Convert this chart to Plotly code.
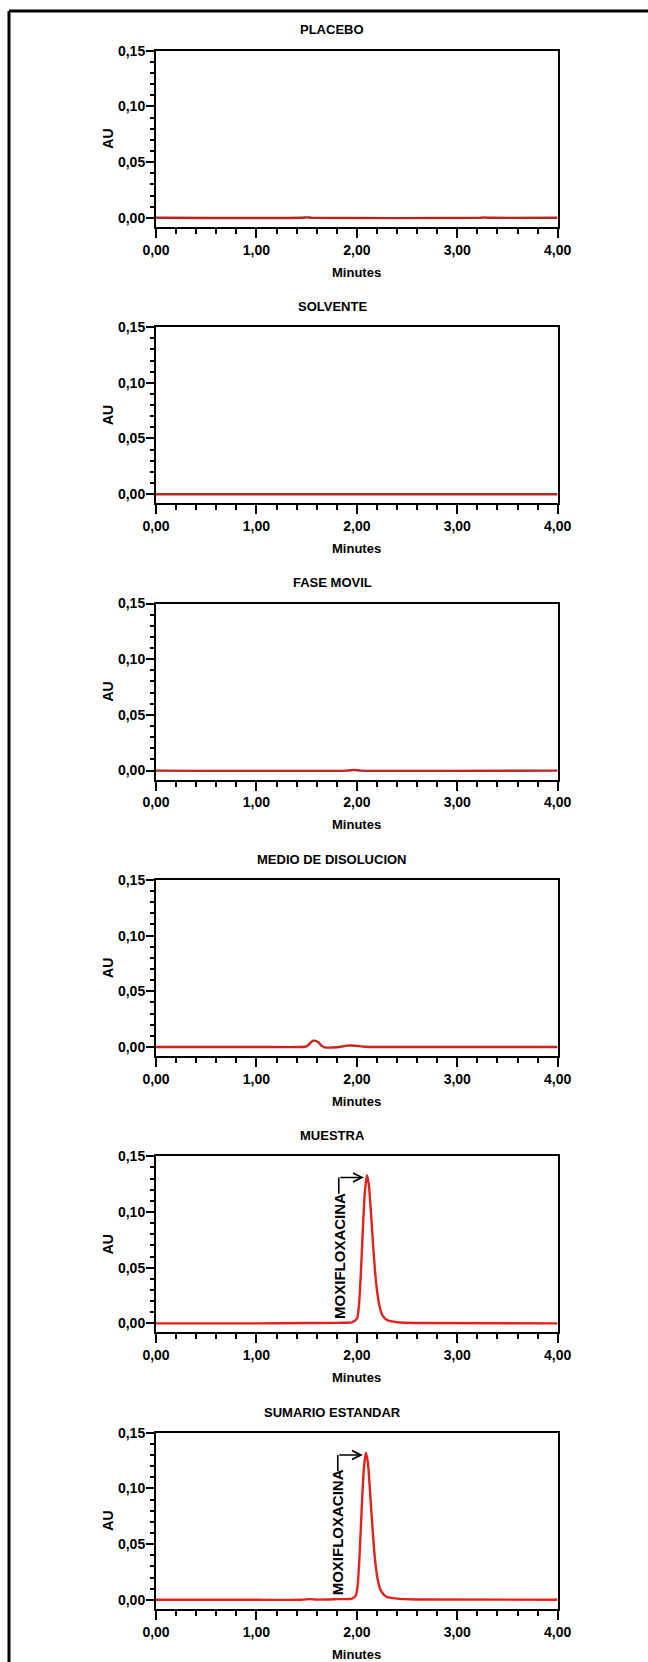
import plotly.graph_objects as go

W, H = 648, 1662

titles = ["PLACEBO", "SOLVENTE", "FASE MOVIL", "MEDIO DE DISOLUCION", "MUESTRA", "SUMARIO ESTANDAR"]

placebo_x = [0.00, 1.45, 1.50, 1.55, 3.22, 3.27, 3.32, 4.00]
placebo_y = [0.0, 0.0, 0.0004, 0.0, 0.0, 0.0003, 0.0, 0.0]

solvente_x = [0.00, 1.00, 2.00, 3.00, 4.00]
solvente_y = [0.0, 0.0, 0.0, 0.0, 0.0]

fase_x = [0.00, 1.90, 1.97, 2.04, 4.00]
fase_y = [0.0, 0.0, 0.0006, 0.0, 0.0]

medio_x = [0.00, 1.00, 1.45, 1.50, 1.53, 1.56, 1.59, 1.62, 1.65, 1.68, 1.80, 1.86, 1.90, 1.96, 2.02, 2.08, 2.20, 4.00]
medio_y = [0.0, 0.0, 0.0, 0.0005, 0.003, 0.0055, 0.0055, 0.004, 0.001, -0.0003, -0.0003, 0.0005, 0.0012, 0.0013, 0.0008, 0.0002, 0.0, 0.0]

muestra_x = [0.00, 1.00, 1.50, 1.80, 1.95, 2.00, 2.02, 2.04, 2.06, 2.08, 2.10, 2.12, 2.14, 2.16, 2.18, 2.20, 2.22, 2.25, 2.30, 2.40, 2.60, 4.00]
muestra_y = [0.0, 0.0, 0.0003, 0.0005, 0.001, 0.004, 0.015, 0.045, 0.085, 0.118, 0.133, 0.124, 0.100, 0.073, 0.048, 0.030, 0.018, 0.008, 0.003, 0.001, 0.0003, 0.0]

sumario_x = [0.00, 1.00, 1.45, 1.53, 1.60, 1.80, 1.95, 1.99, 2.01, 2.03, 2.05, 2.07, 2.09, 2.11, 2.13, 2.15, 2.17, 2.19, 2.21, 2.24, 2.29, 2.40, 2.60, 4.00]
sumario_y = [0.0, 0.0, 0.0, 0.0006, 0.0002, 0.0006, 0.001, 0.004, 0.015, 0.045, 0.085, 0.118, 0.132, 0.123, 0.099, 0.072, 0.047, 0.029, 0.017, 0.008, 0.003, 0.001, 0.0003, 0.0]

series_x = [placebo_x, solvente_x, fase_x, medio_x, muestra_x, sumario_x]
series_y = [placebo_y, solvente_y, fase_y, medio_y, muestra_y, sumario_y]
line_colors = ["#b3261e", "#b3261e", "#c0261e", "#c8241c", "#e3221c", "#e3221c"]
peak_label = [None, None, None, None, "MOXIFLOXACINA", "MOXIFLOXACINA"]

x_ticks = [0, 1, 2, 3, 4]
y_ticks = [0.00, 0.05, 0.10, 0.15]

FONT = "Liberation Sans, Arial, sans-serif"

# layout geometry (pixels)
px_left, px_right = 156, 557.7
top0, bot0, step = 50.7, 226.7, 276.4

fig = go.Figure()
layout = dict(
    template="none",
    width=W, height=H, margin=dict(l=0, r=0, t=0, b=0, pad=0), autosize=False,
    paper_bgcolor="white", plot_bgcolor="white", showlegend=False,
    separators=",.",
    font=dict(family=FONT, color="black", size=13),
)
annotations = []
shapes = []

for i in range(6):
    n = "" if i == 0 else str(i + 1)
    xa, ya = "x" + n, "y" + n
    fig.add_trace(go.Scatter(
        x=series_x[i], y=series_y[i], mode="lines", xaxis=xa, yaxis=ya,
        line=dict(color=line_colors[i], width=2.4, shape="spline", smoothing=0.6),
        hoverinfo="skip"))
    top = top0 + step * i
    bot = bot0 + step * i
    dom_y = [1 - bot / H, 1 - top / H]
    layout["xaxis" + n] = dict(
        domain=[px_left / W, px_right / W], anchor=ya, range=[0, 4], automargin=False,
        tickvals=x_ticks, tickformat=".2f", ticks="outside", ticklen=9, tickwidth=2,
        tickcolor="black", showline=True, linecolor="black", linewidth=2, mirror=True,
        showgrid=False, zeroline=False,
        tickfont=dict(family=FONT, size=14, weight="bold", color="black"),
        minor=dict(dtick=0.2, ticks="outside", ticklen=5, tickwidth=2, tickcolor="black", showgrid=False),
    )
    layout["yaxis" + n] = dict(
        domain=dom_y, anchor=xa, range=[-0.008, 0.15], automargin=False,
        tickvals=y_ticks, tickformat=".2f", ticks="outside", ticklen=8, tickwidth=2,
        tickcolor="black", showline=True, linecolor="black", linewidth=2, mirror=True,
        showgrid=False, zeroline=False, ticklabelstandoff=-2,
        tickfont=dict(family=FONT, size=14, weight="bold", color="black"),
        minor=dict(dtick=0.01, ticks="outside", ticklen=4, tickwidth=1.5, tickcolor="black", showgrid=False),
    )
    dh = bot - top
    annotations.append(dict(text=titles[i], xref=xa + " domain", yref=ya + " domain",
                            x=(332 - px_left) / (px_right - px_left), y=1 + 20.7 / dh,
                            showarrow=False, xanchor="center", yanchor="middle",
                            font=dict(family=FONT, size=13, weight="bold", color="black")))
    annotations.append(dict(text="AU", xref=xa + " domain", yref=ya + " domain",
                            x=(108 - px_left) / (px_right - px_left), y=0.5, textangle=-90,
                            showarrow=False, xanchor="center", yanchor="middle",
                            font=dict(family=FONT, size=14, weight="bold", color="black")))
    annotations.append(dict(text="Minutes", xref=xa + " domain", yref=ya + " domain",
                            x=0.5, y=-45.3 / dh,
                            showarrow=False, xanchor="center", yanchor="middle",
                            font=dict(family=FONT, size=13, weight="bold", color="black")))
    if peak_label[i]:
        ys = series_y[i]
        k = ys.index(max(ys))
        pkx, pky = series_x[i][k], ys[k]
        lx = pkx - 0.28
        ay = pky - 0.002
        annotations.append(dict(text=peak_label[i], xref=xa, yref=ya, x=lx, y=0.002,
                                textangle=-90, showarrow=False, xanchor="center", yanchor="bottom",
                                font=dict(family=FONT, size=15, weight="bold", color="black")))
        annotations.append(dict(text="", xref=xa, yref=ya, x=pkx - 0.03, y=ay,
                                axref=xa, ayref=ya, ax=lx, ay=ay, showarrow=True,
                                arrowhead=5, arrowsize=1.1, arrowwidth=1.6, arrowcolor="black"))
        shapes.append(dict(type="line", xref=xa, yref=ya, x0=lx, x1=lx, y0=pky * 0.875, y1=ay,
                           line=dict(color="black", width=1.6)))

# outer frame (top and left edges)
shapes.append(dict(type="line", xref="paper", yref="paper", x0=9 / W, x1=1, y0=1 - 11 / H, y1=1 - 11 / H,
                   line=dict(color="black", width=3)))
shapes.append(dict(type="line", xref="paper", yref="paper", x0=9 / W, x1=9 / W, y0=0, y1=1 - 11 / H,
                   line=dict(color="black", width=3)))

layout["annotations"] = annotations
layout["shapes"] = shapes
fig.update_layout(**layout)
fig.write_html("out.html", config={"displayModeBar": False},
               post_script="document.body.style.margin='0px';document.body.style.overflow='hidden';")
